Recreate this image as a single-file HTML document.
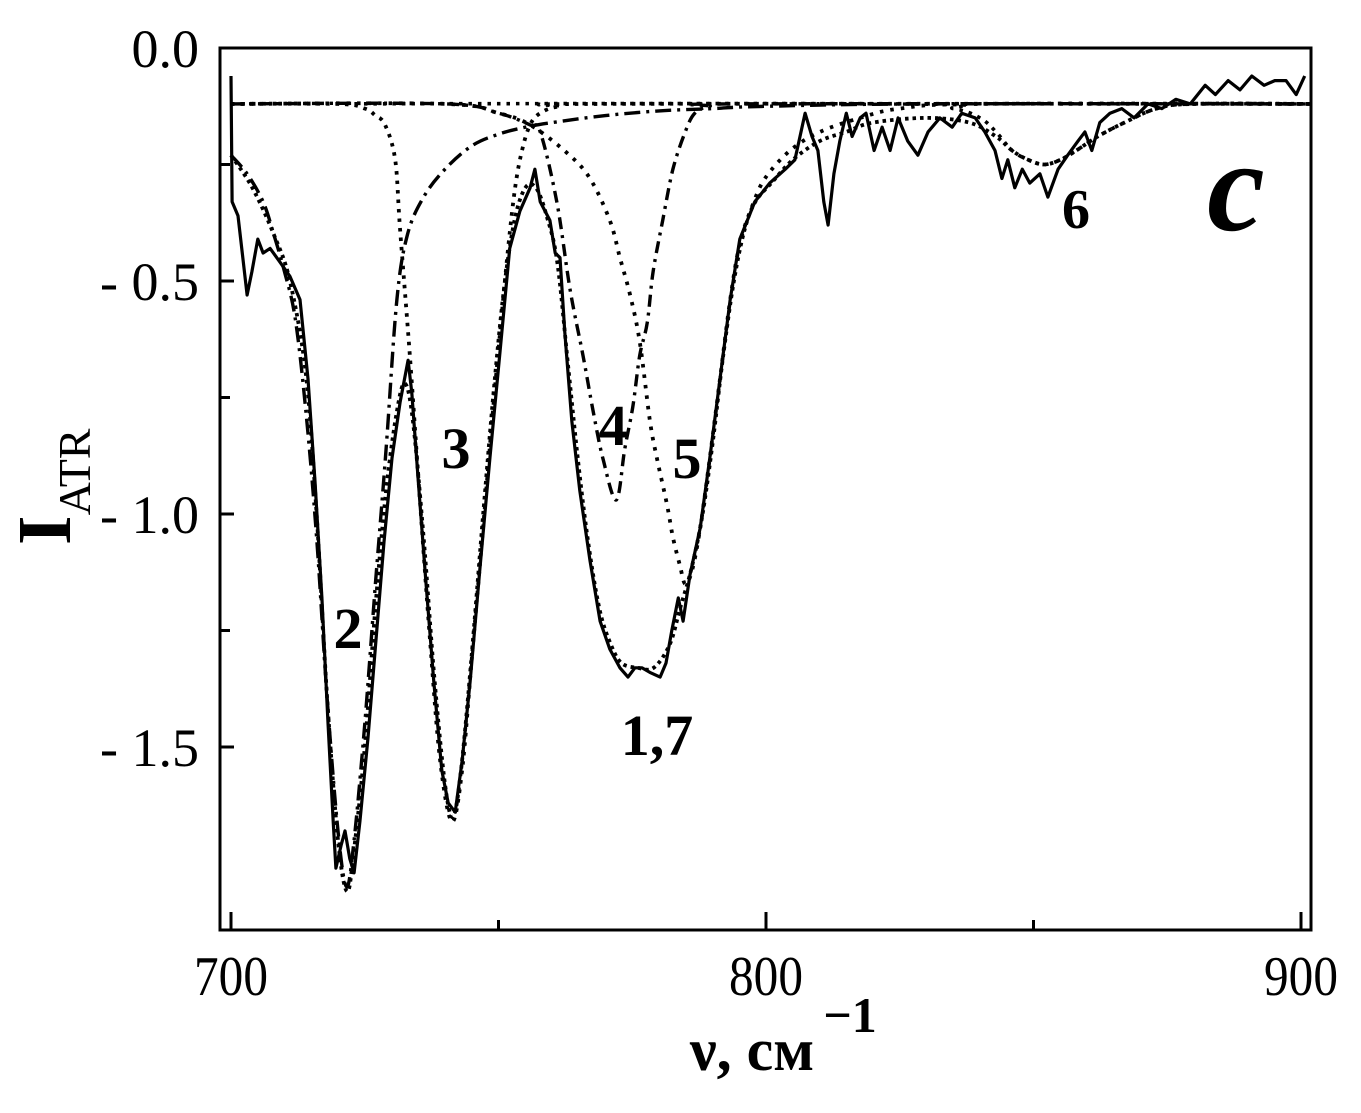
<!DOCTYPE html>
<html><head><meta charset="utf-8">
<style>
html,body{margin:0;padding:0;background:#fff;}
svg{display:block;}
text{font-family:"Liberation Serif","DejaVu Serif",serif;fill:#000;}
</style></head>
<body>
<svg id="chart" width="1361" height="1113" viewBox="0 0 1361 1113" xmlns="http://www.w3.org/2000/svg">
<g id="plot"></g>
</svg>
<script>
// ---- data (wavenumber cm^-1, I_ATR) ----
const xTicks = [700, 750, 800, 850, 900];
const xTickLabels = ["700", "", "800", "", "900"];
const yTicks = [0, -0.25, -0.5, -0.75, -1.0, -1.25, -1.5];
const yTickLabels = ["0.0", "", "- 0.5", "", "- 1.0", "", "- 1.5"];

const expX = [700.0,700.2,701.3,703.0,703.9,705.0,706.0,707.3,709.2,711.0,712.9,714.4,715.7,717.0,718.1,719.1,719.6,720.6,721.3,722.2,723.0,724.1,725.6,727.1,728.6,730.1,731.6,733.1,733.8,735.0,736.4,737.9,739.4,740.6,741.9,743.2,744.7,746.5,748.4,750.3,752.1,754.0,755.9,756.8,757.8,759.6,760.6,761.5,762.4,763.7,765.2,767.1,769.0,770.8,772.7,774.2,775.5,776.8,778.3,780.2,781.3,782.4,783.6,784.5,785.8,787.7,789.5,791.4,793.3,795.1,797.9,800.7,803.6,805.4,807.3,808.6,809.7,810.8,811.6,812.7,813.8,815.0,816.1,817.6,818.7,820.2,821.7,823.2,824.7,826.5,828.4,830.3,832.5,834.8,836.6,839.1,840.9,842.8,844.1,845.2,846.5,847.9,849.3,851.2,852.7,854.6,856.4,858.3,859.6,860.9,862.4,864.3,866.5,868.8,871.4,874.0,876.6,879.3,882.1,884.0,886.4,888.6,890.8,893.1,895.1,897.2,899.1,900.7];
const expY = [-0.06,-0.33,-0.36,-0.53,-0.48,-0.41,-0.44,-0.43,-0.46,-0.49,-0.54,-0.71,-0.93,-1.18,-1.44,-1.66,-1.76,-1.71,-1.68,-1.74,-1.77,-1.66,-1.48,-1.27,-1.06,-0.88,-0.76,-0.67,-0.74,-0.93,-1.14,-1.36,-1.55,-1.62,-1.64,-1.53,-1.36,-1.12,-0.88,-0.65,-0.43,-0.35,-0.30,-0.26,-0.33,-0.37,-0.44,-0.45,-0.61,-0.80,-0.95,-1.10,-1.23,-1.29,-1.33,-1.35,-1.33,-1.33,-1.34,-1.35,-1.32,-1.25,-1.18,-1.23,-1.13,-1.03,-0.88,-0.71,-0.54,-0.41,-0.33,-0.29,-0.26,-0.24,-0.14,-0.19,-0.22,-0.33,-0.38,-0.27,-0.20,-0.14,-0.19,-0.15,-0.14,-0.22,-0.17,-0.22,-0.15,-0.20,-0.23,-0.18,-0.15,-0.17,-0.14,-0.15,-0.18,-0.22,-0.28,-0.24,-0.30,-0.26,-0.29,-0.27,-0.32,-0.26,-0.23,-0.20,-0.18,-0.22,-0.16,-0.14,-0.13,-0.15,-0.12,-0.13,-0.11,-0.12,-0.08,-0.10,-0.07,-0.09,-0.06,-0.08,-0.07,-0.07,-0.10,-0.06];

const band2X = [700,703,706,708,710,712,714,716,718,720,721.6,723,725,727,729,731,733,736,740,745,750,755,760,770,780,790,800,830,902];
const band2Y = [-0.23,-0.27,-0.33,-0.40,-0.48,-0.58,-0.78,-1.05,-1.40,-1.68,-1.80,-1.70,-1.45,-1.15,-0.86,-0.54,-0.40,-0.32,-0.26,-0.21,-0.185,-0.17,-0.16,-0.145,-0.135,-0.13,-0.125,-0.12,-0.12];

const band3X = [700,720,725,727,728.8,730.7,731.6,733.5,735.3,737.2,739.1,741.3,743.2,745.0,746.9,748.8,750.3,751.8,753.1,754.4,755.9,757.8,761.5,770,902];
const band3Y = [-0.12,-0.12,-0.13,-0.145,-0.165,-0.24,-0.39,-0.67,-0.97,-1.27,-1.53,-1.66,-1.55,-1.31,-1.06,-0.80,-0.61,-0.43,-0.30,-0.22,-0.165,-0.14,-0.125,-0.12,-0.12];

const band4X = [700,740,750,755.9,757.8,760.9,763.4,765.8,767.7,769.5,772.0,773.6,775.1,776.4,777.8,778.9,780.7,782.6,784.9,786.7,789.5,795,902];
const band4Y = [-0.12,-0.12,-0.14,-0.165,-0.18,-0.33,-0.52,-0.66,-0.78,-0.88,-0.97,-0.86,-0.77,-0.66,-0.59,-0.48,-0.37,-0.26,-0.18,-0.14,-0.125,-0.12,-0.12];

const band5X = [700,740,750,755.9,762.8,767.1,770.8,772.7,774.6,776.4,778.3,779.6,781.5,782.6,783.9,784.9,786.2,787.7,789.5,791.4,793.3,795.1,797.4,799.8,804.5,810.1,817.6,825,840,902];
const band5Y = [-0.12,-0.12,-0.14,-0.165,-0.225,-0.28,-0.37,-0.45,-0.53,-0.63,-0.80,-0.88,-0.98,-1.05,-1.11,-1.15,-1.12,-1.03,-0.88,-0.71,-0.54,-0.42,-0.34,-0.28,-0.22,-0.18,-0.15,-0.13,-0.12,-0.12];

const band6X = [700,825,835,840,843,846,849,852,855,858,862,867,873,880,902];
const band6Y = [-0.12,-0.12,-0.13,-0.15,-0.18,-0.22,-0.24,-0.25,-0.24,-0.22,-0.19,-0.16,-0.13,-0.12,-0.12];

const fitX = [700,704,708,711,714,716,718,720,721.7,723,725,727,729,731,732.5,734,736,738,740,741.5,743,745,747,749,751,753,755,757,759,761,763,765,767,769,771,773,776,779,782,784,786,788,790,792,794,796,798,801,805,810,815,820,830,838,843,846,849,852,855,858,862,867,873,880,902];
const fitY = [-0.23,-0.30,-0.40,-0.50,-0.70,-1.00,-1.40,-1.70,-1.81,-1.72,-1.50,-1.20,-0.95,-0.78,-0.72,-0.80,-1.05,-1.35,-1.58,-1.65,-1.55,-1.30,-1.02,-0.75,-0.52,-0.37,-0.30,-0.30,-0.36,-0.46,-0.68,-0.90,-1.08,-1.21,-1.28,-1.32,-1.33,-1.33,-1.28,-1.20,-1.12,-1.01,-0.85,-0.66,-0.50,-0.39,-0.33,-0.29,-0.24,-0.20,-0.18,-0.16,-0.15,-0.16,-0.19,-0.22,-0.24,-0.25,-0.24,-0.22,-0.19,-0.16,-0.13,-0.12,-0.12];

// ---- layout ----
const L = 220, R = 1311, T = 48, B = 930;
const X0 = 700, PXX = 5.35, XPIX0 = 231;
const PXY = 466;
function sx(v){ return XPIX0 + (v - X0) * PXX; }
function sy(v){ return T + (-v) * PXY; }
const NS = "http://www.w3.org/2000/svg";
const g = document.getElementById('plot');
function mk(tag, attrs){ const e = document.createElementNS(NS, tag); for (const k in attrs) e.setAttribute(k, attrs[k]); g.appendChild(e); return e; }

function linePath(xs, ys){ return xs.map((x,i)=>(i?'L':'M')+sx(x).toFixed(1)+' '+sy(ys[i]).toFixed(1)).join(' '); }
function smoothPath(xs, ys){
  const p = xs.map((x,i)=>[sx(x), sy(ys[i])]);
  let d = 'M'+p[0][0].toFixed(1)+' '+p[0][1].toFixed(1);
  for (let i=0;i<p.length-1;i++){
    const p0=p[Math.max(0,i-1)], p1=p[i], p2=p[i+1], p3=p[Math.min(p.length-1,i+2)];
    const c1=[p1[0]+(p2[0]-p0[0])/6, p1[1]+(p2[1]-p0[1])/6];
    const c2=[p2[0]-(p3[0]-p1[0])/6, p2[1]-(p3[1]-p1[1])/6];
    d += ' C'+c1[0].toFixed(1)+' '+c1[1].toFixed(1)+' '+c2[0].toFixed(1)+' '+c2[1].toFixed(1)+' '+p2[0].toFixed(1)+' '+p2[1].toFixed(1);
  }
  return d;
}

// axes frame
const frame = mk('rect', {x:L, y:T, width:R-L, height:B-T, fill:'none', stroke:'#000', 'stroke-width':3});



// x ticks
xTicks.forEach((v,i)=>{
  const major = xTickLabels[i] !== "";
  const t = mk('line', {x1:sx(v), x2:sx(v), y1:B, y2:B-(major?18:10), stroke:'#000', 'stroke-width':3});
  
  
  if (major){
    const lb = mk('text', {x:0, y:0, 'font-size':56, 'text-anchor':'middle', transform:'translate('+sx(v)+',995) scale(0.88,1)'});
    lb.textContent = xTickLabels[i];
    
    
  }
});
// y ticks
yTicks.forEach((v,i)=>{
  const major = yTickLabels[i] !== "";
  const t = mk('line', {x1:L, x2:L+(major?14:10), y1:sy(v), y2:sy(v), stroke:'#000', 'stroke-width':3});
  
  
  if (major){
    const lb = mk('text', {x:199, y:sy(v)+19, 'font-size':54, 'text-anchor':'end'});
    lb.textContent = yTickLabels[i];
    
    
  }
});

// series
function series(d, dash, w, name){
  const p = mk('path', {d:d, fill:'none', stroke:'#000', 'stroke-width':w, 'stroke-dasharray':dash, 'stroke-linejoin':'round'});
  
  
}
series(smoothPath(band2X, band2Y), '16 6 3 6', 3.4, 'band-2-line');
series(smoothPath(band3X, band3Y), '3.5 6', 3.8, 'band-3-line');
series(smoothPath(band4X, band4Y), '12 6 3 6', 3.4, 'band-4-line');
series(smoothPath(band5X, band5Y), '3.5 7', 3.8, 'band-5-line');
series(smoothPath(band6X, band6Y), '3.5 6', 3.6, 'band-6-line');
series(smoothPath(fitX, fitY), '3.5 4', 3.8, 'fit-sum-line-7');
series(linePath(expX, expY), 'none', 3.2, 'experimental-line-1');

// annotations
function label(txt, x, y, size, name, extra){
  const t = mk('text', Object.assign({x:x, y:y, 'font-size':size, 'font-weight':'bold', 'text-anchor':'middle'}, extra||{}));
  t.textContent = txt;
  
  
}
label('2', 348, 648, 58, 'label-curve-2');
label('3', 456, 468, 58, 'label-curve-3');
label('4', 613, 445, 58, 'label-curve-4');
label('5', 687, 478, 58, 'label-curve-5');
label('1,7', 657, 755, 58, 'label-curve-1-7');
label('6', 1076, 228, 56, 'label-curve-6');
label('c', 1236, 230, 130, 'panel-label-c', {'font-style':'italic'});

// axis titles
const xt = mk('text', {x:752, y:1070, 'font-size':60, 'font-weight':'bold', 'text-anchor':'middle'});
xt.textContent = 'ν, см';


const xs = mk('text', {x:850, y:1032, 'font-size':50, 'font-weight':'bold', 'text-anchor':'middle'});
xs.textContent = '−1';


const yt = mk('text', {x:0, y:0, 'font-size':76, 'font-weight':'bold', transform:'translate(70,545) rotate(-90)'});


const ts1 = document.createElementNS(NS,'tspan'); ts1.textContent = 'I'; yt.appendChild(ts1);
const ts2 = document.createElementNS(NS,'tspan'); ts2.setAttribute('font-size','46'); ts2.setAttribute('dy','20'); ts2.setAttribute('font-weight','normal'); ts2.textContent = 'ATR'; yt.appendChild(ts2);
</script>
</body></html>
